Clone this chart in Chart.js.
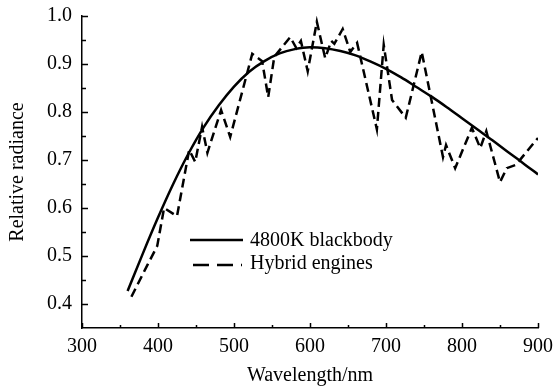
<!DOCTYPE html>
<html><head><meta charset="utf-8">
<script src="https://cdn.jsdelivr.net/npm/chart.js@4/dist/chart.umd.min.js"></script>
<style>html,body{margin:0;padding:0;background:#fff;overflow:hidden}#wrap{width:556px;height:387px}</style>
</head><body><div id="wrap"><canvas id="c" width="556" height="387"></canvas></div>
<script>
const seriesLabels = ['4800K blackbody', 'Hybrid engines'];
const xTitle = 'Wavelength/nm';
const yTitle = 'Relative radiance';
const bbWavelength = [360,380,400,420,440,460,480,500,520,540,560,580,600,620,640,660,680,700,720,740,760,780,800,820,840,860,880,900];
const bbRadiance = [0.427,0.505,0.580,0.650,0.713,0.768,0.814,0.853,0.884,0.906,0.922,0.931,0.935,0.933,0.927,0.918,0.905,0.890,0.872,0.852,0.832,0.810,0.787,0.764,0.741,0.717,0.694,0.670];
const hyWavelength = [365,386,399,408,425,441,449,458,465,483,495,524,537,545,553,574,582,588,597,609,620,628,632,643,653,662,688,697,708,726,747,775,779,791,813,824,832,850,859,871,900];
const hyRadiance = [0.415,0.481,0.521,0.600,0.583,0.721,0.696,0.769,0.715,0.804,0.748,0.921,0.906,0.831,0.915,0.956,0.933,0.948,0.885,0.988,0.912,0.948,0.942,0.973,0.925,0.944,0.764,0.940,0.825,0.788,0.925,0.706,0.731,0.683,0.767,0.725,0.760,0.654,0.683,0.690,0.746];
const xTicks = [300,400,500,600,700,800,900];
const xMinorTicks = [350,450,550,650,750,850];
const yTicks = [0.4,0.5,0.6,0.7,0.8,0.9,1.0];
const yMinorTicks = [0.45,0.55,0.65,0.75,0.85,0.95];

const FONT = "'Liberation Serif', 'Times New Roman', serif";

const inTicks = {
  id: 'inTicks',
  afterDraw(chart) {
    const {ctx, scales: {x, y}, chartArea: a} = chart;
    ctx.save();
    ctx.strokeStyle = '#000';
    ctx.lineWidth = 1.5;
    ctx.beginPath();
    xTicks.forEach(v => { const p = Math.round(x.getPixelForValue(v)) + 0.5; ctx.moveTo(p, a.bottom); ctx.lineTo(p, a.bottom - 5); });
    xMinorTicks.forEach(v => { const p = Math.round(x.getPixelForValue(v)) + 0.5; ctx.moveTo(p, a.bottom); ctx.lineTo(p, a.bottom - 3); });
    yTicks.forEach(v => { const p = Math.round(y.getPixelForValue(v)) + 0.5; ctx.moveTo(a.left, p); ctx.lineTo(a.left + 6, p); });
    yMinorTicks.forEach(v => { const p = Math.round(y.getPixelForValue(v)) + 0.5; ctx.moveTo(a.left, p); ctx.lineTo(a.left + 4, p); });
    ctx.stroke();
    ctx.restore();
  }
};

const customLegend = {
  id: 'customLegend',
  afterDraw(chart) {
    const ctx = chart.ctx;
    ctx.save();
    ctx.strokeStyle = '#000';
    ctx.lineWidth = 2.5;
    ctx.beginPath(); ctx.moveTo(190, 240); ctx.lineTo(243, 240); ctx.stroke();
    ctx.setLineDash([16, 8]);
    ctx.beginPath(); ctx.moveTo(193, 265); ctx.lineTo(242, 265); ctx.stroke();
    ctx.setLineDash([]);
    ctx.fillStyle = '#000';
    ctx.font = '20px ' + FONT;
    ctx.textBaseline = 'middle';
    ctx.textAlign = 'left';
    ctx.fillText(seriesLabels[0], 250, 241);
    ctx.fillText(seriesLabels[1], 250, 264);
    ctx.restore();
  }
};

new Chart(document.getElementById('c'), {
  type: 'line',
  data: {
    datasets: [
      { label: seriesLabels[0], data: bbWavelength.map((w, i) => ({x: w, y: bbRadiance[i]})),
        borderColor: '#000', borderWidth: 2.5, pointRadius: 0, fill: false, cubicInterpolationMode: 'monotone' },
      { label: seriesLabels[1], data: hyWavelength.map((w, i) => ({x: w, y: hyRadiance[i]})),
        borderColor: '#000', borderWidth: 2.5, pointRadius: 0, fill: false, tension: 0, borderDash: [9, 5] }
    ]
  },
  options: {
    responsive: false, animation: false, devicePixelRatio: 1,
    layout: { padding: { top: 16, right: 18, left: 0, bottom: 0 } },
    plugins: { legend: { display: false }, tooltip: { enabled: false } },
    scales: {
      x: {
        type: 'linear', min: 300, max: 900,
        afterBuildTicks: s => { s.ticks = xTicks.map(v => ({value: v})); },
        afterFit: s => { s.height = 59; s.paddingLeft = 0; s.paddingRight = 0; },
        grid: { display: false, drawTicks: false },
        border: { display: true, color: '#000', width: 1.5 },
        ticks: { color: '#000', font: { family: FONT, size: 20 }, padding: 7, maxRotation: 0, autoSkip: false },
        title: { display: true, text: xTitle, color: '#000', font: { family: FONT, size: 20, lineHeight: 1.1 }, padding: { top: 0, bottom: 0 } }
      },
      y: {
        type: 'linear', min: 0.35, max: 1.0,
        afterBuildTicks: s => { s.ticks = yTicks.map(v => ({value: v})); },
        afterFit: s => { s.width = 82; s.paddingTop = 0; s.paddingBottom = 0; },
        grid: { display: false, drawTicks: false },
        border: { display: true, color: '#000', width: 1.5 },
        ticks: { color: '#000', font: { family: FONT, size: 20 }, padding: 10, autoSkip: false, callback: v => v.toFixed(1) },
        title: { display: true, text: yTitle, color: '#000', font: { family: FONT, size: 20, lineHeight: 1.2 }, padding: { top: 6, bottom: 0 } }
      }
    }
  },
  plugins: [inTicks, customLegend]
});
</script></body></html>
